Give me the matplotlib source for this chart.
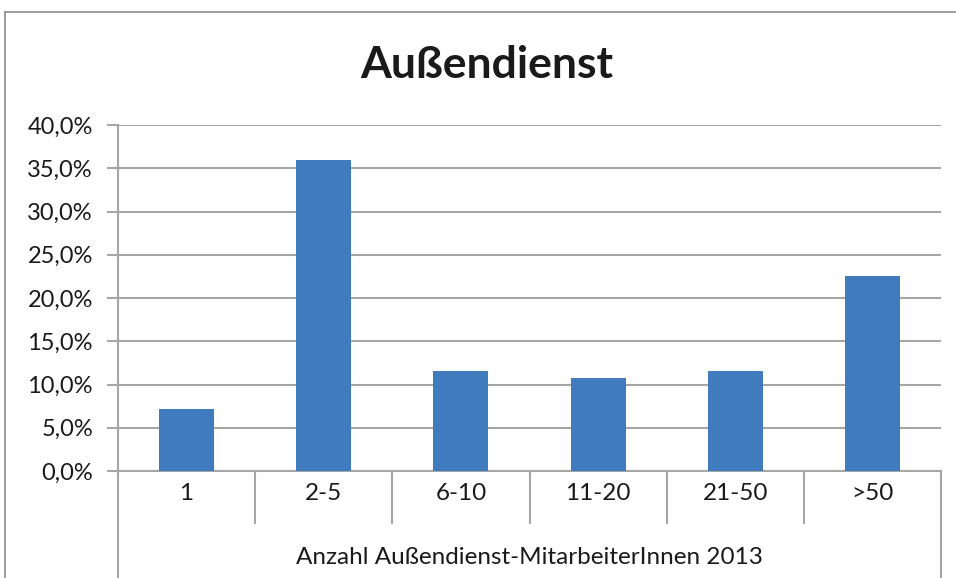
import matplotlib.pyplot as plt
from matplotlib.lines import Line2D
from matplotlib.ticker import FuncFormatter

categories = ['1', '2-5', '6-10', '11-20', '21-50', '>50']
shares = [7.2, 35.9, 11.6, 10.8, 11.6, 22.5]
yticks = [0, 5, 10, 15, 20, 25, 30, 35, 40]

plt.rcParams['font.family'] = ['Lato', 'DejaVu Sans']
grid_col = '#a6a6a6'
W, H = 956, 578

fig = plt.figure(figsize=(W / 100, H / 100), dpi=100)
ax = fig.add_axes([118 / W, (H - 471) / H, 823 / W, 346 / H])

x = list(range(len(categories)))
ax.bar(x, shares, width=0.4, color='#3f7bbd', zorder=3)
ax.set_xlim(-0.5, len(categories) - 0.5)
ax.set_ylim(0, 40)
ax.set_yticks(yticks)
ax.yaxis.set_major_formatter(FuncFormatter(lambda v, p: f'{v:.1f}%'.replace('.', ',')))
ax.grid(axis='y', color=grid_col, linewidth=1.5, zorder=0)
ax.tick_params(axis='y', length=8, width=1.5, color=grid_col, labelsize=17, pad=10,
               labelcolor='#1a1a1a')
ax.set_xticks([])
for s in ['top', 'right']:
    ax.spines[s].set_visible(False)
ax.spines['left'].set_color(grid_col)
ax.spines['left'].set_linewidth(1.5)
ax.spines['bottom'].set_color(grid_col)
ax.spines['bottom'].set_linewidth(1.5)

# category table below the axis
tr = ax.get_xaxis_transform()
for k in range(len(categories) + 1):
    xe = k - 0.5
    y_end = -0.31 if k in (0, len(categories)) else -0.15
    ax.plot([xe, xe], [0, y_end], transform=tr, color=grid_col, lw=1.5, clip_on=False)
for i, c in enumerate(categories):
    ax.text(i, -0.065, c, transform=tr, ha='center', va='center', fontsize=17.5,
            color='#1a1a1a')
ax.text(2.5, -0.25, 'Anzahl Außendienst-MitarbeiterInnen 2013', transform=tr,
        ha='center', va='center', fontsize=17.5, color='#1a1a1a')

fig.text(487 / W, 1 - 65 / H, 'Außendienst', ha='center', va='center',
         fontsize=32, fontweight='bold', color='#1a1a1a')

# outer chart frame
fig.add_artist(Line2D([5 / W, 5 / W], [0, 1 - 12 / H], transform=fig.transFigure,
                      color='#8c8c8c', lw=1.2))
fig.add_artist(Line2D([5 / W, 1], [1 - 12 / H, 1 - 12 / H], transform=fig.transFigure,
                      color='#8c8c8c', lw=1.2))

fig.savefig('out.png', dpi=100)
